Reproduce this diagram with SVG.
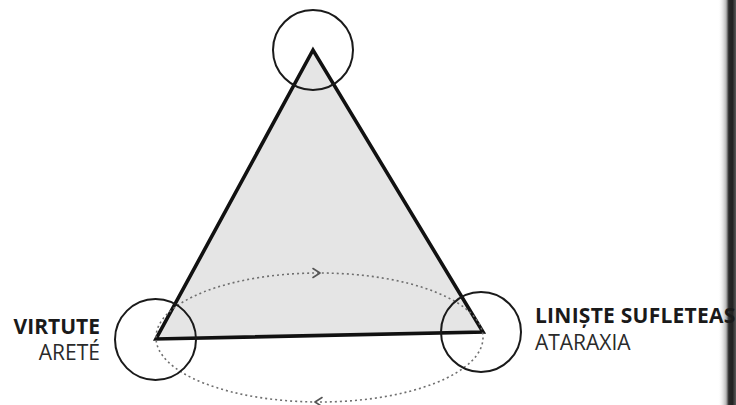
<svg xmlns="http://www.w3.org/2000/svg" width="736" height="405" viewBox="0 0 736 405">
  <style>
    .tri { fill: #e5e5e5; stroke: #111; stroke-width: 3.6; stroke-linejoin: miter; }
    .ring { fill: none; stroke: #1a1a1a; stroke-width: 2; }
    .orbit { fill: none; stroke: #6f6f6f; stroke-width: 1.6; stroke-dasharray: 2 3; }
    .head { fill: none; stroke: #555; stroke-width: 1.6; stroke-linecap: round; stroke-linejoin: round; }
    .lbl-b { font-family: "Open Sans", "Noto Sans", "Liberation Sans", sans-serif; font-weight: 700; font-size: 21px; fill: #1a1a1a; }
    .lbl-r { font-family: "Open Sans", "Noto Sans", "Liberation Sans", sans-serif; font-weight: 400; font-size: 21px; fill: #2a2a2a; }
  </style>
  <defs>
    <linearGradient id="binding" x1="0" y1="0" x2="1" y2="0">
      <stop offset="0" stop-color="#ffffff" stop-opacity="0"/>
      <stop offset="0.45" stop-color="#b5b5b5"/>
      <stop offset="0.6" stop-color="#2a2a2a"/>
      <stop offset="0.8" stop-color="#222222"/>
      <stop offset="1" stop-color="#5a5a5a"/>
    </linearGradient>
  </defs>
  <rect width="736" height="405" fill="#ffffff"/>
  <rect x="718" y="0" width="18" height="405" fill="url(#binding)"/>

  <g id="triangle">
    <polygon class="tri" points="313,50 156,339 483,332"/>
  </g>

  <g id="connectors">
    <ellipse class="orbit" cx="319.5" cy="337.5" rx="163.5" ry="64.5"/>
    <path class="head" d="M313,268.5 L320,273 L313,277.5"/>
    <path class="head" d="M322,397.5 L315,402 L322,406.5"/>
  </g>

  <g id="node-top">
    <circle class="ring" cx="313" cy="50" r="40"/>
  </g>

  <g id="node-virtute">
    <circle class="ring" cx="155.5" cy="339.5" r="40.5"/>
    <text class="lbl-b" x="100" y="334" text-anchor="end">VIRTUTE</text>
    <text class="lbl-r" x="100" y="360" text-anchor="end">ARETÉ</text>
  </g>

  <g id="node-liniste">
    <circle class="ring" cx="481" cy="332" r="40"/>
    <text class="lbl-b" x="535" y="323" letter-spacing="0.25">LINIȘTE SUFLETEAS</text>
    <text class="lbl-r" x="535" y="350">ATARAXIA</text>
  </g>
</svg>
